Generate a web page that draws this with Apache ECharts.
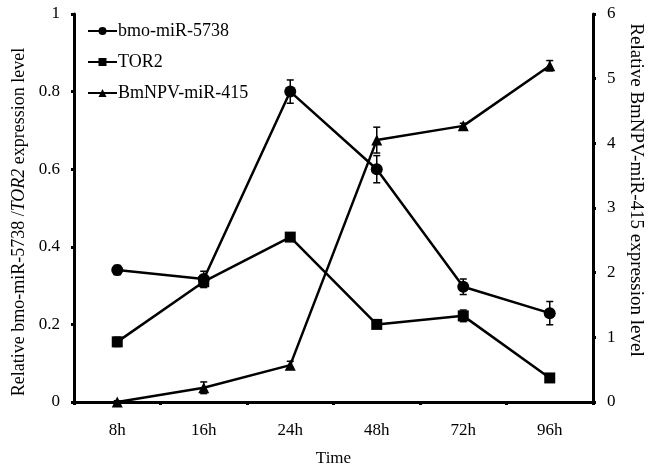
<!DOCTYPE html>
<html><head><meta charset="utf-8">
<script src="https://cdn.jsdelivr.net/npm/echarts@6/dist/echarts.min.js"></script>
<style>html,body{margin:0;padding:0;background:#fff}#c{width:651px;height:466px}</style>
</head><body><div id="c"></div>
<script>
const categories = ['8h','16h','24h','48h','72h','96h'];
const miR5738 = [0.34, 0.317, 0.80, 0.60, 0.297, 0.229];
const miR5738Err = [0.012, 0.02, 0.03, 0.035, 0.02, 0.03];
const tor2 = [0.155, 0.31, 0.425, 0.2, 0.222, 0.062];
const tor2Err = [0.012, 0.015, 0.01, 0.006, 0.015, 0.01];
const npv415 = [0.0, 0.22, 0.57, 4.05, 4.27, 5.2];
const npv415Err = [0.02, 0.09, 0.06, 0.2, 0.04, 0.08];

const FONT = 'Liberation Serif';
const chart = echarts.init(document.getElementById('c'), null, {renderer:'canvas'});

function errSeries(vals, errs, yIdx) {
  return {
    type: 'custom', yAxisIndex: yIdx, z: 5,
    data: vals.map((v, i) => [i, v, errs[i]]),
    encode: {x: 0, y: 1},
    renderItem: function (params, api) {
      const x = api.value(0), y = api.value(1), e = api.value(2);
      const t = api.coord([x, y + e]);
      const b = api.coord([x, y - e]);
      const hw = 3.5;
      const st = {stroke: '#000', lineWidth: 1.5};
      return {type: 'group', children: [
        {type: 'line', shape: {x1: t[0], y1: t[1], x2: b[0], y2: b[1]}, style: st},
        {type: 'line', shape: {x1: t[0]-hw, y1: t[1], x2: t[0]+hw, y2: t[1]}, style: st},
        {type: 'line', shape: {x1: b[0]-hw, y1: b[1], x2: b[0]+hw, y2: b[1]}, style: st}
      ]};
    }
  };
}

const lineStyle = {color: '#000', width: 2.5};
const txt = {fontFamily: FONT, fontSize: 17, color: '#000'};
const nameTxt = {fontFamily: FONT, fontSize: 18, color: '#000'};

chart.setOption({
  backgroundColor: '#fff',
  animation: false,
  grid: {left: 74, right: 58, top: 14, bottom: 64, containLabel: false, outerBoundsMode: 'none'},
  legend: {
    orient: 'vertical', left: 87, top: 22, itemGap: 13, padding: 0,
    itemWidth: 29, itemHeight: 10,
    data: ['bmo-miR-5738', 'TOR2', 'BmNPV-miR-415'],
    textStyle: Object.assign({}, nameTxt, {padding: [0,0,0,-4]})
  },
  xAxis: {
    type: 'category', data: categories, boundaryGap: true,
    name: 'Time', nameLocation: 'middle', nameGap: 48, nameMoveOverlap: false,
    nameTextStyle: txt,
    axisLine: {lineStyle: {color: '#000', width: 3}},
    axisTick: {show: true, length: 3, lineStyle: {color: '#000', width: 3}},
    axisLabel: Object.assign({}, txt, {margin: 20})
  },
  yAxis: [{
    type: 'value', min: 0, max: 1, interval: 0.2,
    name: '{n|Relative bmo-miR-5738 /}{i|TOR2}{n| expression level}',
    nameLocation: 'middle', nameGap: 46, nameMoveOverlap: false,
    nameTextStyle: {padding: [0, 28, 0, 0], rich: {
      n: {fontFamily: FONT, fontSize: 18, color: '#000'},
      i: {fontFamily: FONT, fontSize: 18, color: '#000', fontStyle: 'italic'}
    }},
    axisLine: {show: true, lineStyle: {color: '#000', width: 3}},
    axisTick: {show: true, length: 3, lineStyle: {color: '#000', width: 3}},
    axisLabel: Object.assign({}, txt, {margin: 14, formatter: v => String(Math.round(v*10)/10)}),
    splitLine: {show: false}
  }, {
    type: 'value', min: 0, max: 6, interval: 1, position: 'right',
    name: 'Relative BmNPV-miR-415 expression level',
    nameLocation: 'middle', nameGap: 33, nameRotate: -90, nameMoveOverlap: false,
    nameTextStyle: Object.assign({}, nameTxt, {fontSize: 19, padding: [0, 36, 0, 0]}),
    axisLine: {show: true, lineStyle: {color: '#000', width: 3}},
    axisTick: {show: true, length: 3, lineStyle: {color: '#000', width: 3}},
    axisLabel: Object.assign({}, txt, {margin: 14}),
    splitLine: {show: false}
  }],
  series: [
    {name: 'bmo-miR-5738', type: 'line', data: miR5738, symbol: 'circle', symbolSize: 12,
     lineStyle: lineStyle, itemStyle: {color: '#000'}, z: 3},
    {name: 'TOR2', type: 'line', data: tor2, symbol: 'rect', symbolSize: 11,
     lineStyle: lineStyle, itemStyle: {color: '#000'}, z: 3},
    {name: 'BmNPV-miR-415', type: 'line', yAxisIndex: 1, data: npv415, symbol: 'triangle', symbolSize: 11,
     lineStyle: lineStyle, itemStyle: {color: '#000'}, z: 3},
    errSeries(miR5738, miR5738Err, 0),
    errSeries(tor2, tor2Err, 0),
    errSeries(npv415, npv415Err, 1)
  ]
});
</script></body></html>
